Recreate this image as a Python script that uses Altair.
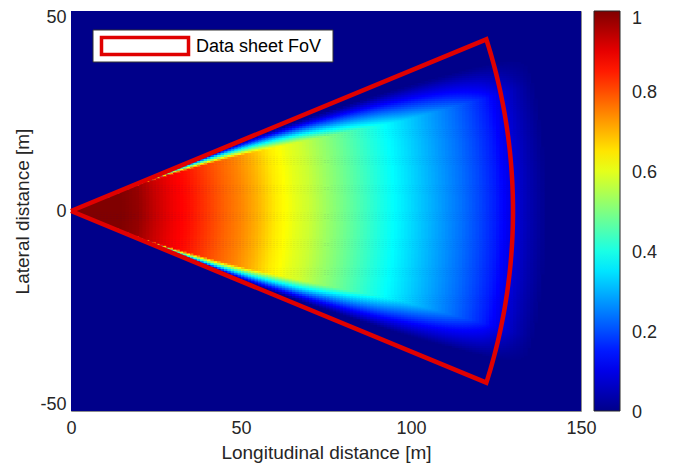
import numpy as np
import pandas as pd
import altair as alt

# ---- values ----
# detection probability along the boresight, as a function of range [m]
radial_r = [0, 5, 10, 15, 20, 25, 30, 35, 40, 45, 50, 55, 60, 63, 66, 70, 75,
            80, 85, 90, 95, 100, 105, 110, 115, 120, 125, 130, 135, 140]
radial_p = [1.0, 1.0, 1.0, 1.0, 0.98, 0.93, 0.89, 0.86, 0.82, 0.78, 0.745, 0.70,
            0.645, 0.625, 0.60, 0.575, 0.53, 0.49, 0.45, 0.41, 0.375, 0.34, 0.305,
            0.27, 0.235, 0.195, 0.15, 0.09, 0.04, 0.0]
# angular edge of the detection field (deg): full value inside theta_in, zero beyond theta_out
edge_r = [0, 20, 40, 60, 80, 100, 120, 140]
theta_in = [19.8, 19.0, 17.0, 15.5, 14.3, 13.5, 13.5, 13.5]
theta_out = [20.2, 20.1, 19.9, 19.5, 18.8, 18.2, 17.5, 16.8]

# data sheet field of view
fov_range = 130.0
fov_half_angle = 20.0
fov_label = "Data sheet FoV"

x_ticks = [0, 50, 100, 150]
y_ticks = [-50, 0, 50]
cbar_ticks = [0, 0.2, 0.4, 0.6, 0.8, 1.0]
cbar_inner_ticks = [0.2, 0.4, 0.6, 0.8]
x_domain = [0, 150]
y_domain = [-51.8, 51.8]

jet_stops = [0, 0.125, 0.375, 0.625, 0.875, 1.0]
jet_colors = ["#00008A", "#0000FF", "#00FFFF", "#FFFF00", "#FF0000", "#800000"]

# ---- build the cell table ----
dx, dy = 1.0, 0.5
xs = np.arange(0, 141, dx)
ys = np.arange(-50, 50, dy)
XC, YC = np.meshgrid(xs + dx / 2, ys + dy / 2)
R = np.hypot(XC, YC)
TH = np.degrees(np.arctan2(np.abs(YC), XC))
pr = np.interp(R, radial_r, radial_p)
ti = np.interp(R, edge_r, theta_in)
to = np.interp(R, edge_r, theta_out)
fade = np.clip((to - TH) / (to - ti), 0, 1)
P = pr * fade
mask = P > 0.004
cells = pd.DataFrame({
    "x": (XC[mask] - dx / 2).round(2),
    "x2": (XC[mask] + dx / 2 + 0.3 * dx).round(2),
    "y": (YC[mask] - dy / 2).round(2),
    "y2": (YC[mask] + dy / 2 + 0.3 * dy).round(2),
    "p": np.minimum(P[mask], 1).round(4),
})

bg = pd.DataFrame({"x": [x_domain[0]], "x2": [x_domain[1]],
                   "y": [y_domain[0]], "y2": [y_domain[1]], "p": [0.0]})

ang = np.linspace(fov_half_angle, -fov_half_angle, 81)
fov = pd.DataFrame({
    "x": np.concatenate([[0], fov_range * np.cos(np.radians(ang)), [0]]),
    "y": np.concatenate([[0], fov_range * np.sin(np.radians(ang)), [0]]),
})
fov["o"] = np.arange(len(fov))

FONT = "Liberation Sans"
TXT = "#262626"

xscale = alt.Scale(domain=x_domain, nice=False, zero=False)
yscale = alt.Scale(domain=y_domain, nice=False, zero=False)
cscale = alt.Scale(domain=jet_stops, range=jet_colors, interpolate="rgb")
cbscale = alt.Scale(domain=[0, 1], nice=False, zero=False)

xaxis = alt.Axis(values=x_ticks, title="Longitudinal distance [m]", labelFlush=False,
                 ticks=False, domain=False, grid=False, labelPadding=8,
                 labelFontSize=18, labelFont=FONT, labelColor=TXT,
                 titleFontSize=19, titleFont=FONT, titleColor=TXT, titleFontWeight="normal",
                 titleY=41, titleBaseline="middle")
yaxis = alt.Axis(values=y_ticks, title="Lateral distance [m]", labelExpr="'' + datum.value",
                 ticks=False, domain=False, grid=False, labelPadding=5,
                 labelFontSize=18, labelFont=FONT, labelColor=TXT,
                 titleFontSize=19, titleFont=FONT, titleColor=TXT, titleFontWeight="normal",
                 titleAngle=270, titleX=-49, titleY=200, titleBaseline="middle", titleAlign="center")

legend = alt.Legend(title=None, values=cbar_ticks, labelExpr="''", orient="right",
                    direction="vertical", gradientLength=400, gradientThickness=26,
                    gradientStrokeColor=TXT, gradientStrokeWidth=1, offset=13, padding=0)

background = alt.Chart(bg).mark_rect().encode(
    x=alt.X("x:Q", scale=xscale, axis=xaxis), x2="x2:Q",
    y=alt.Y("y:Q", scale=yscale, axis=yaxis), y2="y2:Q",
    color=alt.Color("p:Q", scale=cscale, legend=legend),
)

heat = alt.Chart(cells).mark_rect().encode(
    x=alt.X("x:Q", scale=xscale), x2="x2:Q",
    y=alt.Y("y:Q", scale=yscale, axis=None), y2="y2:Q",
    color=alt.Color("p:Q", scale=cscale, legend=legend),
)

fov_line = alt.Chart(fov).mark_line(color="#E00000", strokeWidth=4.5, strokeJoin="miter").encode(
    x=alt.X("x:Q", scale=xscale), y=alt.Y("y:Q", scale=yscale, axis=None), order="o:Q"
)

one = pd.DataFrame({"label": [fov_label]})
box = alt.Chart(one).mark_rect(fill="white", stroke="#333333", strokeWidth=1).encode(
    x=alt.value(22), x2=alt.value(262), y=alt.value(19), y2=alt.value(51)
)
swatch = alt.Chart(one).mark_rect(filled=False, stroke="#E00000", strokeWidth=3.5).encode(
    x=alt.value(30.5), x2=alt.value(117.5), y=alt.value(26.5), y2=alt.value(43.5)
)
label = alt.Chart(one).mark_text(align="left", baseline="middle", fontSize=18,
                                 font=FONT, color="#000000").encode(
    x=alt.value(125), y=alt.value(36), text="label:N"
)

# colour bar labels and small inner ticks, placed through their own 0..1 scale
cb_data = pd.DataFrame({"v": cbar_ticks})
cb_labels = alt.Chart(cb_data).transform_filter("datum.v < 1").mark_text(
    align="left", baseline="middle", dy=2, fontSize=18, font=FONT, color=TXT
).encode(
    x=alt.value(561),
    y=alt.Y("v:Q", scale=cbscale, axis=None),
    text=alt.Text("v:Q", format=".1~f"),
)
cb_top = alt.Chart(cb_data).transform_filter("datum.v >= 1").mark_text(
    align="left", baseline="middle", dy=8, fontSize=18, font=FONT, color=TXT
).encode(
    x=alt.value(561),
    y=alt.Y("v:Q", scale=cbscale, axis=None),
    text=alt.Text("v:Q", format=".1~f"),
)
cb_ticks = alt.Chart(pd.DataFrame({"v": cbar_inner_ticks})).mark_rule(
    color=TXT, strokeWidth=1
).encode(
    x=alt.value(545), x2=alt.value(549),
    y=alt.Y("v:Q", scale=cbscale, axis=None),
)

chart = alt.layer(background, heat, fov_line, box, swatch, label,
                  cb_ticks, cb_labels, cb_top).resolve_scale(
    y="independent"
).properties(
    width=510, height=400,
    autosize=alt.AutoSizeParams(type="none"),
    padding={"left": 63, "top": 3, "right": 90, "bottom": 52},
).configure_view(stroke="#8c8c8c", strokeWidth=1)

chart.save("out.html", embed_options={"renderer": "svg", "actions": False})
